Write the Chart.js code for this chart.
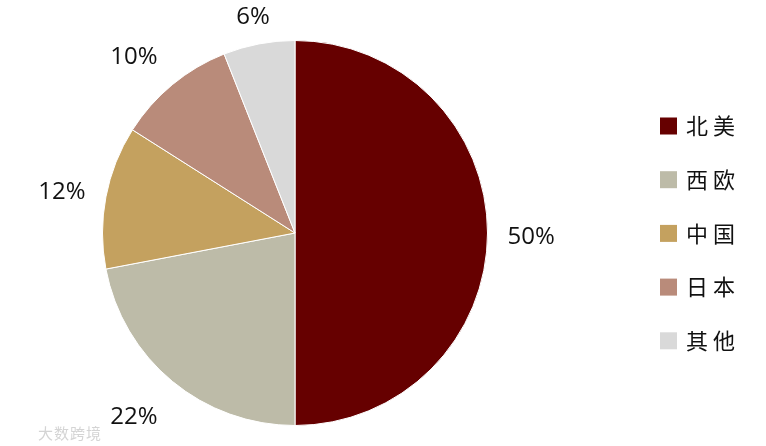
<!DOCTYPE html>
<html lang="zh">
<head>
    <meta charset="UTF-8">
    <title>地区占比</title>
    <script src="https://cdn.jsdelivr.net/npm/chart.js@4/dist/chart.umd.min.js"></script>
    <style>
        body { margin: 0; background: #fff; }
        .wrap { position: relative; width: 766px; height: 446px; }
        .mark {
            position: absolute; left: 38px; top: 422px;
            font-family: "Noto Sans CJK SC", sans-serif; font-size: 15px;
            color: #d4d4d4; letter-spacing: 1px;
        }
    </style>
</head>
<body>
<div class="wrap">
    <canvas id="pie" width="766" height="446"></canvas>
    <div class="mark">大数跨境</div>
</div>
<script>
    const regions = ['北美', '西欧', '中国', '日本', '其他'];
    const shares = [50, 22, 12, 10, 6];
    const colors = ['#660000', '#bdbba8', '#c4a15f', '#b98b7a', '#d9d9d9'];

    // percent labels outside each slice
    const outLabels = {
        id: 'outLabels',
        afterDatasetsDraw(chart) {
            const c = chart.ctx;
            const arcs = chart.getDatasetMeta(0).data;
            c.save();
            c.font = '24px "Open Sans", sans-serif';
            c.fillStyle = '#111';
            c.textAlign = 'center';
            c.textBaseline = 'middle';
            arcs.forEach((a, i) => {
                const mid = (a.startAngle + a.endAngle) / 2;
                const ux = Math.cos(mid), uy = Math.sin(mid);
                const txt = shares[i] + '%';
                const hw = c.measureText(txt).width / 2, hh = 8;
                const d = a.outerRadius + 20 + hw * Math.abs(ux) + hh * Math.abs(uy);
                const sx = ux < -0.3 && Math.abs(uy) > 0.5 ? -12 : 0;
                c.fillText(txt, a.x + ux * d + sx, a.y + uy * d + 4);
            });
            c.restore();
        }
    };

    // legend on the right
    const sideLegend = {
        id: 'sideLegend',
        afterDraw(chart) {
            const c = chart.ctx;
            c.save();
            c.font = '22px "Noto Sans CJK SC", sans-serif';
            c.textBaseline = 'middle';
            regions.forEach((r, i) => {
                const y = 126 + i * 53.7;
                c.fillStyle = colors[i];
                c.fillRect(660, y - 8.5, 17, 17);
                c.fillStyle = '#111';
                c.fillText(r[0], 686, y);
                c.fillText(r[1], 713, y);
            });
            c.restore();
        }
    };

    new Chart(document.getElementById('pie'), {
        type: 'pie',
        data: {
            labels: regions,
            datasets: [{
                data: shares,
                backgroundColor: colors,
                borderColor: '#fff',
                borderWidth: 1
            }]
        },
        options: {
            responsive: false,
            animation: false,
            layout: { padding: { left: 102, right: 278, top: 40, bottom: 20 } },
            plugins: { legend: { display: false }, tooltip: { enabled: false } }
        },
        plugins: [outLabels, sideLegend]
    });
</script>
</body>
</html>
